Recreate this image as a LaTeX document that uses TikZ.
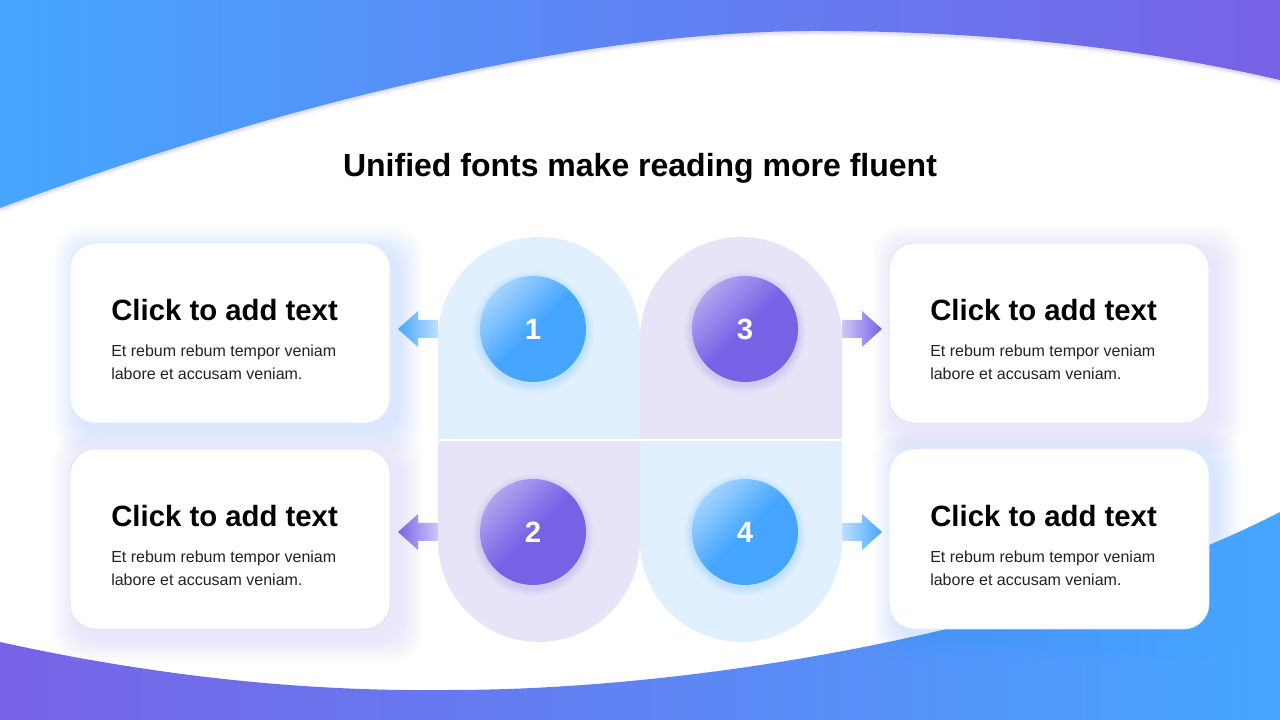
\documentclass[tikz,border=0pt]{standalone}
\usepackage{fontspec}
\setmainfont{Liberation Sans}
\usepackage{tikz}
\definecolor{mainblue}{HTML}{46A6FF}
\definecolor{mainpurple}{HTML}{7762E6}
\definecolor{liteblue}{HTML}{A3D3FF}
\definecolor{litepurple}{HTML}{B0A4F0}
\definecolor{paleblue}{HTML}{E0F0FE}
\definecolor{palepurple}{HTML}{E8E4F8}
\definecolor{glowpurple}{HTML}{DCD9FB}
\definecolor{bodygray}{HTML}{222222}
\tikzset{
  card/.style      = {draw=#1, line width=0.6pt, fill=white, rounded corners=19pt,
                      minimum width=240pt, minimum height=135pt, inner sep=0pt},
  cardtitle/.style = {font=\bfseries\fontsize{22}{26}\selectfont, anchor=base west, inner sep=0pt},
  cardbody/.style  = {font=\fontsize{12}{14}\selectfont, text=bodygray, anchor=base west, inner sep=0pt},
  numball/.style 2 args = {circle, minimum size=79.5pt, inner sep=0pt, text=white,
                      font=\bfseries\fontsize{22}{26}\selectfont,
                      top color=#1, bottom color=#2, middle color=#2, shading angle=45},
  heading/.style   = {font=\bfseries\fontsize{24}{28}\selectfont, anchor=base, inner sep=0pt}
}

\begin{document}
\begin{tikzpicture}[x=0.75pt,y=0.75pt]
  \useasboundingbox (0,0) rectangle (1280,720);
  \fill[white] (0,0) rectangle (1280,720);
  % top band
  \foreach \w/\o in {7/0.25, 4.5/0.45, 2.5/0.7}
    \draw[mainpurple!25, line width=\w pt, opacity=\o] (0,512) .. controls (250,605) and (560,689) .. (816,689)
          .. controls (1000,689) and (1150,670) .. (1280,640);
  \shade[left color=mainblue, right color=mainpurple] (0,720) -- (0,512)
        .. controls (250,605) and (560,689) .. (816,689)
        .. controls (1000,689) and (1150,670) .. (1280,640) -- (1280,720) -- cycle;
  % bottom band
  \shade[left color=mainpurple, right color=mainblue] (0,0) -- (0,78)
        .. controls (150,45) and (300,28) .. (450,30)
        .. controls (700,30) and (1050,90) .. (1280,208) -- (1280,0) -- cycle;

  \node[heading] (heading) at (640,543) {Unified fonts make reading more fluent};

  % cards
  \foreach \cx/\cy/\gc/\go/\bc/\nm in {230/387/mainblue/0.014/mainblue/a, 230/181/glowpurple/0.06/mainpurple/b,
                                       1049/387/glowpurple/0.06/mainpurple/c, 1049/181/mainblue/0.014/mainblue/d} {
    \foreach \g in {2,4,...,24}
      \fill[\gc, opacity=\go, rounded corners=19pt]
        (\cx-160-\g+8,\cy-90-\g-8) rectangle (\cx+160+\g+8,\cy+90+\g-8);
    \node[card=\bc!20] (card\nm) at (\cx,\cy) {};
    \node[cardtitle] (title\nm) at (\cx-119,\cy+12) {Click to add text};
    \node[cardbody] (linea\nm) at (\cx-119,\cy-24) {Et rebum rebum tempor veniam};
    \node[cardbody] (lineb\nm) at (\cx-119,\cy-47) {labore et accusam veniam.};
  }

  % center pills
  \fill[paleblue] (438,280) -- (438,382) arc[start angle=180,end angle=0,radius=101] -- (640,280) -- cycle;
  \fill[palepurple] (640,280) -- (640,382) arc[start angle=180,end angle=0,radius=101] -- (842,280) -- cycle;
  \fill[palepurple] (438,280) -- (438,179) arc[start angle=180,end angle=360,radius=101] -- (640,280) -- cycle;
  \fill[paleblue] (640,280) -- (640,179) arc[start angle=180,end angle=360,radius=101] -- (842,280) -- cycle;
  \draw[white, line width=0.8pt] (438,280) -- (842,280);

  % arrows
  \foreach \ay/\bc in {391/mainblue, 188/mainpurple}
    \shade[left color=\bc, right color=\bc!35] (398,\ay) -- (418,\ay+18) -- (418,\ay+9) -- (438,\ay+9)
          -- (438,\ay-9) -- (418,\ay-9) -- (418,\ay-18) -- cycle;
  \foreach \ay/\bc in {391/mainpurple, 188/mainblue}
    \shade[left color=\bc!35, right color=\bc] (882,\ay) -- (862,\ay+18) -- (862,\ay+9) -- (842,\ay+9)
          -- (842,\ay-9) -- (862,\ay-9) -- (862,\ay-18) -- cycle;

  % number balls
  \foreach \nx/\ny/\lc/\dc/\num in {533/391/liteblue/mainblue/1, 533/188/litepurple/mainpurple/2,
                                    745/391/litepurple/mainpurple/3, 745/188/liteblue/mainblue/4} {
    \foreach \g in {1,...,8}
      \fill[\dc, opacity=0.025] (\nx,\ny-3) circle ({53+\g});
    \node[numball={\lc}{\dc}] (num\num) at (\nx,\ny) {\num};
  }
\end{tikzpicture}
\end{document}
